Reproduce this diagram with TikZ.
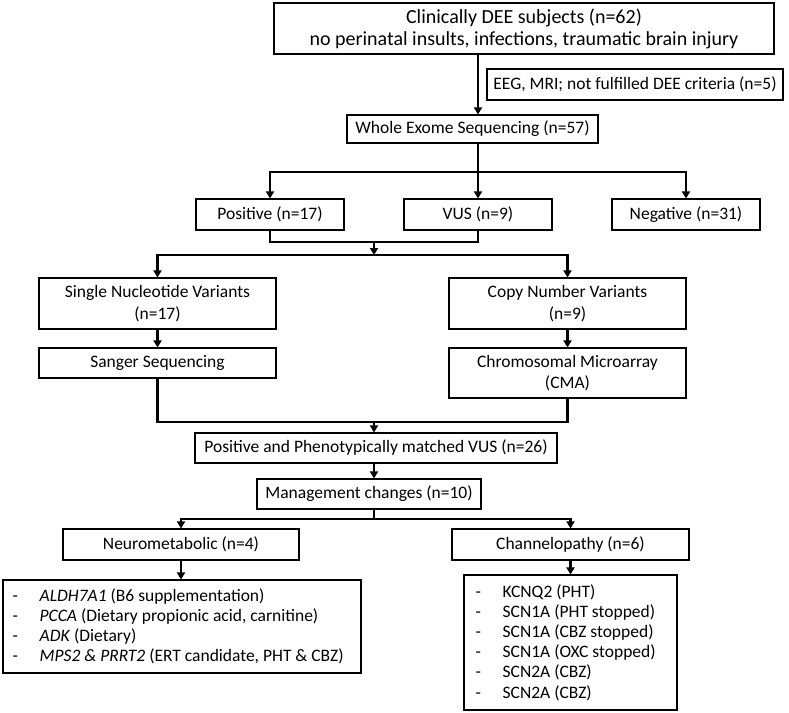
\documentclass[tikz,border=0pt]{standalone}
\usepackage{fontspec}
\setmainfont{Carlito}
\usetikzlibrary{arrows.meta}
\begin{document}
\begin{tikzpicture}[x=1pt,y=-1pt,
  box/.style={draw, line width=1.1pt, inner sep=0pt, align=center,
    font=\fontsize{17.5}{21.5}\selectfont},
  listbox/.style={draw, line width=1.1pt, inner sep=0pt},
  listtext/.style={anchor=west, inner sep=0pt, align=left,
    font=\fontsize{17.5}{20.2}\selectfont},
  conn/.style={line width=2.2pt},
  arr/.style={line width=2.2pt, -{Triangle[width=8pt,length=7pt]}}]
\useasboundingbox (0,0) rectangle (789,712);
% boxes
\node[box, minimum width=500pt, minimum height=51pt, font=\fontsize{20}{22}\selectfont] (c1) at (524,28.5)
  {Clinically DEE subjects (n=62)\\no perinatal insults, infections, traumatic brain injury};
\node[box, minimum width=296pt, minimum height=31pt] (eeg) at (635,84.5)
  {EEG, MRI; not fulfilled DEE criteria (n=5)};
\node[box, minimum width=251pt, minimum height=28pt] (wes) at (472.5,129)
  {Whole Exome Sequencing (n=57)};
\node[box, minimum width=148pt, minimum height=31pt] (pos) at (270,214.5) {Positive (n=17)};
\node[box, minimum width=148pt, minimum height=31pt] (vus) at (478,214.5) {VUS (n=9)};
\node[box, minimum width=148pt, minimum height=31pt] (neg) at (686,214.5) {Negative (n=31)};
\node[box, minimum width=237pt, minimum height=51pt] (snv) at (157.5,303.5)
  {Single Nucleotide Variants\\(n=17)};
\node[box, minimum width=237pt, minimum height=51pt] (cnv) at (567.5,303.5)
  {Copy Number Variants\\(n=9)};
\node[box, minimum width=237pt, minimum height=30pt] (sang) at (157.5,363) {Sanger Sequencing};
\node[box, minimum width=237pt, minimum height=50pt] (cma) at (567.5,373)
  {Chromosomal Microarray\\(CMA)};
\node[box, minimum width=362pt, minimum height=30pt] (ppv) at (376,448)
  {Positive and Phenotypically matched VUS (n=26)};
\node[box, minimum width=224pt, minimum height=30pt] (mgmt) at (369,494)
  {Management changes (n=10)};
\node[box, minimum width=236pt, minimum height=31pt] (neuro) at (181,544.5)
  {Neurometabolic (n=4)};
\node[box, minimum width=237pt, minimum height=31pt] (chan) at (570.5,544.5)
  {Channelopathy (n=6)};
\node[listbox, minimum width=358pt, minimum height=93pt] (nlist) at (182,626.5) {};
\node[listtext] (ntext) at ([xshift=10pt]nlist.west)
  {\makebox[27pt][l]{-}\textit{ALDH7A1} (B6 supplementation)\\
   \makebox[27pt][l]{-}\textit{PCCA} (Dietary propionic acid, carnitine)\\
   \makebox[27pt][l]{-}\textit{ADK} (Dietary)\\
   \makebox[27pt][l]{-}\textit{MPS2 \& PRRT2} (ERT candidate, PHT \& CBZ)};
\node[listbox, minimum width=213pt, minimum height=135pt] (clist) at (570.5,642.5) {};
\node[listtext] (ctext) at ([xshift=12pt]clist.west)
  {\makebox[27pt][l]{-}KCNQ2 (PHT)\\
   \makebox[27pt][l]{-}SCN1A (PHT stopped)\\
   \makebox[27pt][l]{-}SCN1A (CBZ stopped)\\
   \makebox[27pt][l]{-}SCN1A (OXC stopped)\\
   \makebox[27pt][l]{-}SCN2A (CBZ)\\
   \makebox[27pt][l]{-}SCN2A (CBZ)};
% junction coordinates
\coordinate (b1) at (478,172);
\coordinate (m1) at (374,242);
\coordinate (b2) at (374,255);
\coordinate (m2) at (374,422);
\coordinate (b3) at (374,519);
% connectors
\draw[arr] (c1.south -| vus.north) -- (wes.north -| vus.north);
\draw[conn] (wes.south -| b1) -- (b1);
\draw[arr] (b1) -- (vus.north);
\draw[arr] (b1) -| (pos.north);
\draw[arr] (b1) -| (neg.north);
\draw[conn] (pos.south) |- (m1);
\draw[conn] (vus.south) |- (m1);
\draw[arr] (m1) -- (b2);
\draw[arr] (b2) -| (snv.north);
\draw[arr] (b2) -| (cnv.north);
\draw[arr] (snv.south) -- (sang.north);
\draw[arr] (cnv.south) -- (cma.north);
\draw[conn] (sang.south) |- (m2);
\draw[conn] (cma.south) |- (m2);
\draw[arr] (m2) -- (m2 |- ppv.north);
\draw[arr] (ppv.south -| m2) -- (mgmt.north -| m2);
\draw[conn] (mgmt.south -| b3) -- (b3);
\draw[arr] (b3) -| (neuro.north);
\draw[arr] (b3) -| (chan.north);
\draw[arr] (neuro.south) -- (neuro.south |- nlist.north);
\draw[arr] (chan.south) -- (clist.north);
\end{tikzpicture}
\end{document}
